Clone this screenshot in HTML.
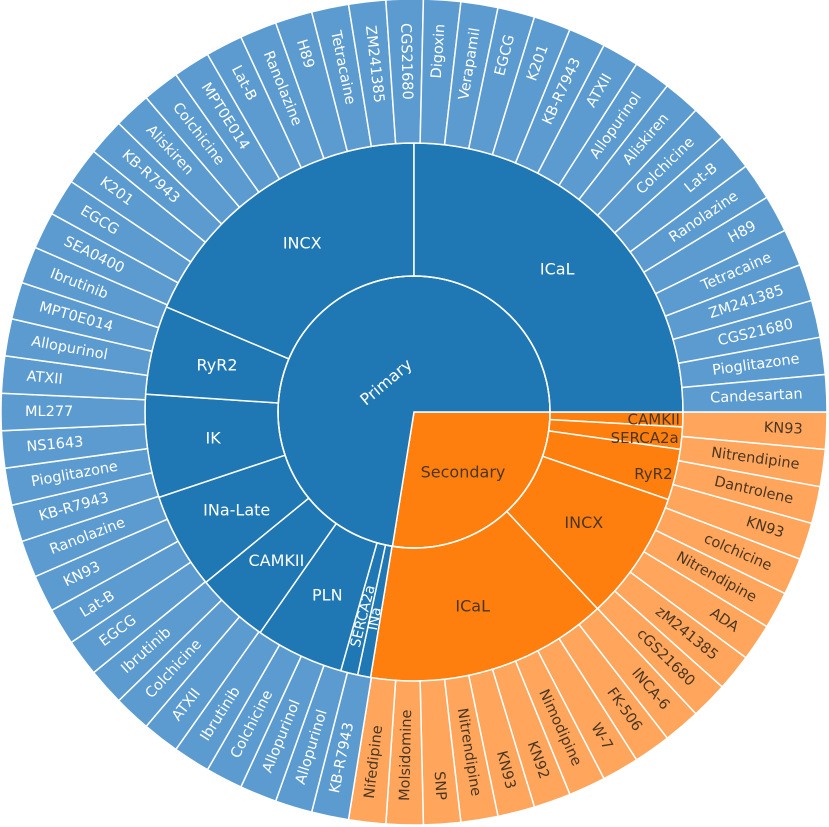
<!DOCTYPE html>
<html><head><meta charset="utf-8">
<style>
html,body{margin:0;padding:0;background:#fff;}
svg{display:block;}
text{font-family:"DejaVu Sans","Liberation Sans",sans-serif;}
</style></head>
<body>
<svg id="chart" width="829" height="827" viewBox="0 0 829 827"></svg>
<script>
// ---- data ----
const rootLabels = ["Secondary", "Primary"];
const rootLeafCounts = [19, 50];
const midLabels = ["CAMKII","SERCA2a","RyR2","INCX","ICaL","INa","SERCA2a","PLN","CAMKII","INa-Late","IK","RyR2","INCX","ICaL"];
const midRoot = [0,0,0,0,0,1,1,1,1,1,1,1,1,1];
const midValues = [3.2,4.8,11,28,52.3,2.8,3.7,19.1,15.8,20.8,22.3,19.2,67,90];
const leafLabels = ["KN93","Nitrendipine","Dantrolene","KN93","colchicine","Nitrendipine","ADA","zM241385","cGS21680","INCA-6","FK-506","W-7","Nimodipine","KN92","KN93","Nitrendipine","SNP","Molsidomine","Nifedipine",
"KB-R7943","Allopurinol","Allopurinol","Colchicine","Ibrutinib","ATXII","Colchicine","Ibrutinib","EGCG","Lat-B","KN93","Ranolazine","KB-R7943","Pioglitazone","NS1643","ML277","ATXII","Allopurinol","MPT0E014","Ibrutinib","SEA0400","EGCG","K201","KB-R7943","Aliskiren","Colchicine","MPT0E014","Lat-B","Ranolazine","H89","Tetracaine","ZM241385","CGS21680","Digoxin","Verapamil","EGCG","K201","KB-R7943","ATXII","Allopurinol","Aliskiren","Colchicine","Lat-B","Ranolazine","H89","Tetracaine","ZM241385","CGS21680","Pioglitazone","Candesartan"];
const leafValues = leafLabels.map(()=>1);

// ---- layout ----
const CX=414, CY=412, R0=136, R1=269, R2=413;
const svg=document.getElementById('chart');
const NS='http://www.w3.org/2000/svg';
const fills={root:['#ff7f0e','#1f77b4'],mid:['#ff7f0e','#1f77b4'],leaf:['#ffa55c','#5b9bd0']};
const txtCol=['#4a3623','#ffffff'];
const rad=d=>d*Math.PI/180;
function pt(r,a){return [CX+r*Math.cos(rad(a)),CY+r*Math.sin(rad(a))];}
function arcPath(ri,ro,a0,a1){
  const large=(a1-a0)>180?1:0;
  const [x0,y0]=pt(ro,a0),[x1,y1]=pt(ro,a1);
  if(ri===0){return `M${CX},${CY}L${x0},${y0}A${ro},${ro} 0 ${large} 1 ${x1},${y1}Z`;}
  const [x2,y2]=pt(ri,a1),[x3,y3]=pt(ri,a0);
  return `M${x0},${y0}A${ro},${ro} 0 ${large} 1 ${x1},${y1}L${x2},${y2}A${ri},${ri} 0 ${large} 0 ${x3},${y3}Z`;
}
function mk(tag,attrs){const e=document.createElementNS(NS,tag);for(const k in attrs)e.setAttribute(k,attrs[k]);svg.appendChild(e);return e;}

const leafTotal=leafValues.reduce((a,b)=>a+b,0);
const midTotal=midValues.reduce((a,b)=>a+b,0);

// root ring
let acc=0;
rootLabels.forEach((lab,i)=>{
  const span=rootLeafCounts[i]/leafTotal*360;
  const a0=acc,a1=acc+span;acc=a1;
  const p=mk('path',{d:arcPath(0,R0,a0,a1),fill:fills.root[i],stroke:'#fff','stroke-width':1.5});
  
  
});
// mid ring
acc=0;
const midAngles=[];
midLabels.forEach((lab,i)=>{
  const span=midValues[i]/midTotal*360;
  const a0=acc,a1=acc+span;acc=a1;midAngles.push([a0,a1]);
  const p=mk('path',{d:arcPath(R0,R1,a0,a1),fill:fills.mid[midRoot[i]],stroke:'#fff','stroke-width':1.5});
  
  
});
// leaf ring
acc=0;
const leafAngles=[];
leafLabels.forEach((lab,i)=>{
  const span=leafValues[i]/leafTotal*360;
  const a0=acc,a1=acc+span;acc=a1;leafAngles.push([a0,a1]);
  const root=i<rootLeafCounts[0]?0:1;
  const p=mk('path',{d:arcPath(R1,R2,a0,a1),fill:fills.leaf[root],stroke:'#fff','stroke-width':1.5});
  
  
});
mk('circle',{cx:CX,cy:CY,r:R0,fill:'none',stroke:'#fff','stroke-width':1.5});

// root labels
const rl1=mk('text',{x:386,y:382,'font-size':16,fill:'#fff','text-anchor':'middle','dominant-baseline':'central',transform:'rotate(-40 386 382)'});
rl1.textContent='Primary';


const rl0=mk('text',{x:463,y:472,'font-size':16,fill:txtCol[0],'text-anchor':'middle','dominant-baseline':'central'});
rl0.textContent='Secondary';



// mid labels
midLabels.forEach((lab,i)=>{
  const [a0,a1]=midAngles[i];const span=a1-a0;const m=(a0+a1)/2;
  const col=txtCol[midRoot[i]];
  let t;
  const nearHoriz=Math.abs(Math.sin(rad(m)))<0.5;
  if(span<12 && nearHoriz){
    const [x,y]=pt(R1-3,m);
    t=mk('text',{x:x,y:y,'font-size':15,fill:col,'text-anchor':'end','dominant-baseline':'central'});
  } else if(span<6){
    const [x,y]=pt((R0+R1)/2+8,m);
    const c=Math.cos(rad(m));const rot=c>=0?m:m+180;
    t=mk('text',{x:x,y:y,'font-size':14,fill:col,'text-anchor':'middle','dominant-baseline':'central',transform:`rotate(${rot} ${x} ${y})`});
  } else {
    const [x,y]=pt((R0+R1)/2,m);
    t=mk('text',{x:x,y:y,'font-size':16,fill:col,'text-anchor':'middle','dominant-baseline':'central'});
  }
  t.textContent=lab;
  
  
});

// leaf labels (radial)
leafLabels.forEach((lab,i)=>{
  const [a0,a1]=leafAngles[i];const m=(a0+a1)/2;
  const root=i<rootLeafCounts[0]?0:1;
  const [x,y]=pt(R2-24,m);
  const right=Math.cos(rad(m))>=0.001;
  const rot=right?m:m+180;
  const t=mk('text',{x:x,y:y,'font-size':14.5,fill:txtCol[root],'text-anchor':right?'end':'start','dominant-baseline':'central',transform:`rotate(${rot} ${x} ${y})`});
  t.textContent=lab;
  
  
});
</script>
</body></html>
